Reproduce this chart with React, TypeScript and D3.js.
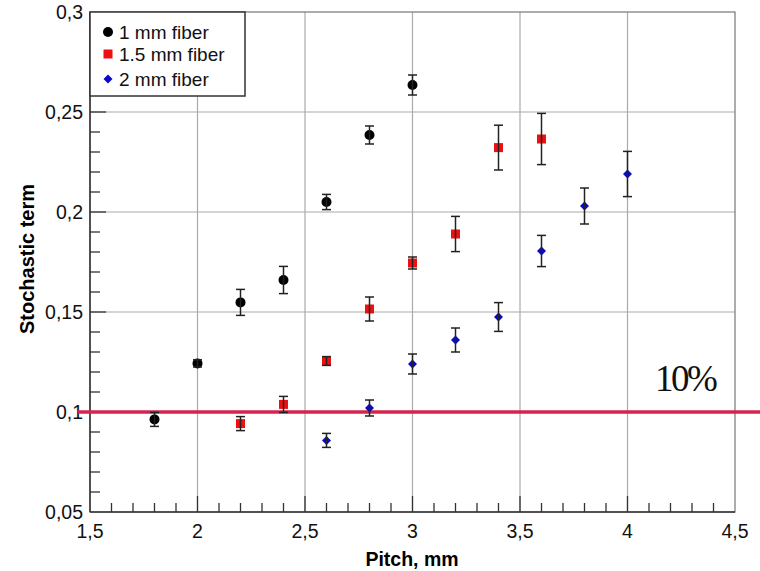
import React from "react";
import * as d3 from "d3";

const xTicks = [1.5, 2, 2.5, 3, 3.5, 4, 4.5];
const yTicks = [0.05, 0.1, 0.15, 0.2, 0.25, 0.3];

const pitch1 = [1.8, 2.0, 2.2, 2.4, 2.6, 2.8, 3.0];
const val1 = [0.0963, 0.1243, 0.1548, 0.1660, 0.2050, 0.2385, 0.2635];
const err1 = [0.0035, 0.0018, 0.0065, 0.0068, 0.0038, 0.0045, 0.005];

const pitch15 = [2.2, 2.4, 2.6, 2.8, 3.0, 3.2, 3.4, 3.6];
const val15 = [0.0942, 0.1038, 0.1255, 0.1515, 0.1745, 0.1890, 0.2322, 0.2365];
const err15 = [0.0035, 0.004, 0.0022, 0.006, 0.003, 0.0088, 0.0112, 0.0128];

const pitch2 = [2.6, 2.8, 3.0, 3.2, 3.4, 3.6, 3.8, 4.0];
const val2 = [0.0858, 0.1020, 0.1240, 0.1360, 0.1475, 0.1805, 0.2030, 0.2190];
const err2 = [0.0035, 0.004, 0.005, 0.006, 0.0072, 0.0078, 0.009, 0.0113];

const legendLabels = ["1 mm fiber", "1.5 mm fiber", "2 mm fiber"];
const thresholdValue = 0.1;
const thresholdLabel = "10%";

export default function App() {
  const W = 760, H = 571;
  const left = 90, right = 735, top = 12, bottom = 512;
  const x = d3.scaleLinear().domain([1.5, 4.5]).range([left, right]);
  const y = d3.scaleLinear().domain([0.05, 0.3]).range([bottom, top]);
  const fmt = (v: number) => String(+v.toFixed(2)).replace(".", ",");
  const font = "'Liberation Sans', Arial, Helvetica, sans-serif";

  const xMinor = d3.range(15, 46).map((d) => d / 10).filter((v) => Math.abs(v * 2 - Math.round(v * 2)) > 1e-6);
  const yMinor = d3.range(5, 31).map((d) => d / 100).filter((v) => Math.abs(v * 20 - Math.round(v * 20)) > 1e-6);

  const errColor = "#222";
  const renderErr = (px: number[], vals: number[], errs: number[], key: string) =>
    px.map((p, i) => {
      const cx = x(p);
      const y1 = y(vals[i] + errs[i]);
      const y2 = y(vals[i] - errs[i]);
      return (
        <g key={key + i} stroke={errColor} strokeWidth={1.5}>
          <line x1={cx} x2={cx} y1={y1} y2={y2} />
          <line x1={cx - 4.5} x2={cx + 4.5} y1={y1} y2={y1} />
          <line x1={cx - 4.5} x2={cx + 4.5} y1={y2} y2={y2} />
        </g>
      );
    });

  const diamond = (cx: number, cy: number, r: number) =>
    `M${cx},${cy - r}L${cx + r},${cy}L${cx},${cy + r}L${cx - r},${cy}Z`;

  return (
    <svg width={W} height={H} style={{ position: "absolute", left: 0, top: 0, background: "#fff" }}>
      <rect x={0} y={0} width={W} height={H} fill="#fff" />
      {/* grid */}
      <g stroke="#aaa" strokeWidth={1.2}>
        {xTicks.slice(1, -1).map((t) => (
          <line key={"gx" + t} x1={x(t)} x2={x(t)} y1={top} y2={bottom} />
        ))}
        {yTicks.slice(1, -1).map((t) => (
          <line key={"gy" + t} x1={left} x2={right} y1={y(t)} y2={y(t)} />
        ))}
      </g>
      {/* frame */}
      <rect x={left} y={top} width={right - left} height={bottom - top} fill="none" stroke="#777" strokeWidth={1.2} />
      <line x1={left} x2={left} y1={top} y2={bottom} stroke="#333" strokeWidth={1.5} />
      <line x1={left} x2={right} y1={bottom} y2={bottom} stroke="#333" strokeWidth={1.5} />
      {/* ticks */}
      <g stroke="#333" strokeWidth={1.3}>
        {xTicks.slice(1, -1).map((t) => (
          <line key={"tx" + t} x1={x(t)} x2={x(t)} y1={bottom} y2={bottom - 16} />
        ))}
        {xMinor.map((t) => (
          <line key={"mx" + t} x1={x(t)} x2={x(t)} y1={bottom} y2={bottom - 9} />
        ))}
        {yTicks.slice(1, -1).map((t) => (
          <line key={"ty" + t} x1={left} x2={left + 16} y1={y(t)} y2={y(t)} />
        ))}
        {yMinor.map((t) => (
          <line key={"my" + t} x1={left} x2={left + 10} y1={y(t)} y2={y(t)} />
        ))}
      </g>
      {/* tick labels */}
      <g fontFamily={font} fontSize={19.5} fill="#111">
        {xTicks.map((t) => (
          <text key={"lx" + t} x={x(t)} y={538} textAnchor="middle">{fmt(t)}</text>
        ))}
        {yTicks.map((t) => (
          <text key={"ly" + t} x={83} y={y(t) + 7} textAnchor="end">{fmt(t)}</text>
        ))}
      </g>
      <text x={412} y={566} textAnchor="middle" fontFamily={font} fontWeight="bold" fontSize={19.5}>Pitch, mm</text>
      <text transform={`translate(34,259) rotate(-90)`} textAnchor="middle" fontFamily={font} fontWeight="bold" fontSize={20}>Stochastic term</text>

      {/* threshold */}
      <line x1={78} x2={760} y1={y(thresholdValue)} y2={y(thresholdValue)} stroke="#d6244f" strokeWidth={3.5} />
      <text x={655} y={391} fontFamily="'Liberation Serif', 'Times New Roman', serif" fontSize={37} letterSpacing={-2.5} fill="#111">{thresholdLabel}</text>

      {/* markers */}
      {pitch1.map((p, i) => (
        <circle key={"c" + i} cx={x(p)} cy={y(val1[i])} r={5} fill="#000" />
      ))}
      {pitch15.map((p, i) => (
        <rect key={"s" + i} x={x(p) - 4.5} y={y(val15[i]) - 4.5} width={9} height={9} fill="#ee1010" />
      ))}
      {pitch2.map((p, i) => (
        <path key={"d" + i} d={diamond(x(p), y(val2[i]), 4.5)} fill="#0a0ac8" />
      ))}

      {/* error bars */}
      {renderErr(pitch1, val1, err1, "e1")}
      {renderErr(pitch15, val15, err15, "e15")}
      {renderErr(pitch2, val2, err2, "e2")}

      {/* legend */}
      <rect x={left} y={top} width={155} height={84} fill="#fff" stroke="#333" strokeWidth={1.5} />
      <g fontFamily={font} fontSize={19} fill="#111">
        <circle cx={108} cy={32} r={5} fill="#000" />
        <text x={119} y={39}>{legendLabels[0]}</text>
        <rect x={103.5} y={49.5} width={9} height={9} fill="#ee1010" />
        <text x={119} y={61}>{legendLabels[1]}</text>
        <path d={diamond(108, 79, 4.5)} fill="#0a0ac8" />
        <text x={119} y={86}>{legendLabels[2]}</text>
      </g>
    </svg>
  );
}
